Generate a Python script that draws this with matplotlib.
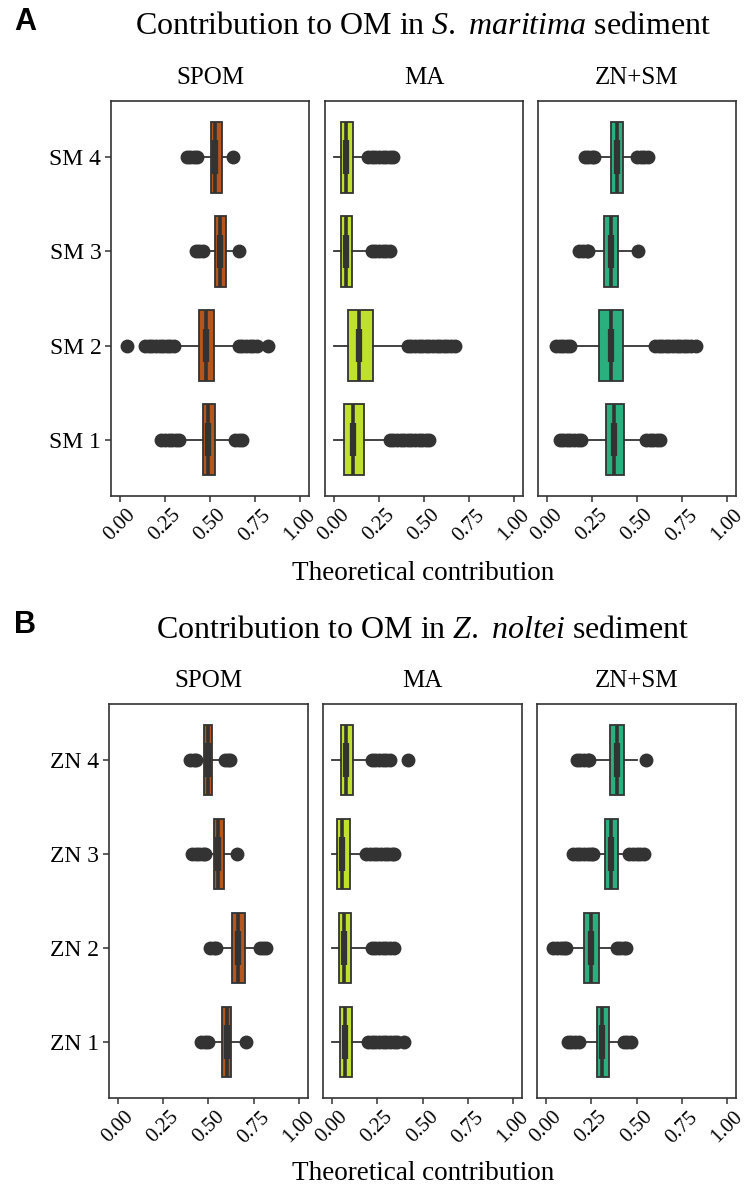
import matplotlib
matplotlib.use("Agg")
import matplotlib.pyplot as plt

plt.rcParams['font.family'] = ['Liberation Serif', 'DejaVu Serif']
plt.rcParams['mathtext.fontset'] = 'custom'
plt.rcParams['mathtext.rm'] = 'Liberation Serif'
plt.rcParams['mathtext.it'] = 'Liberation Serif:italic'

sources = ["SPOM", "MA", "ZN+SM"]
source_colors = ["#B5561C", "#BFE12B", "#2AB07F"]
sites_A = ["SM 1", "SM 2", "SM 3", "SM 4"]
sites_B = ["ZN 1", "ZN 2", "ZN 3", "ZN 4"]
x_ticks = [0.0, 0.25, 0.5, 0.75, 1.0]

# box stats per site: [whisker low, q1, median, q3, whisker high]
A_spom_box = [[0.36, 0.46, 0.49, 0.53, 0.61],
              [0.33, 0.44, 0.48, 0.52, 0.63],
              [0.48, 0.53, 0.555, 0.59, 0.63],
              [0.46, 0.505, 0.53, 0.565, 0.60]]
A_ma_box = [[0.0, 0.055, 0.105, 0.167, 0.29],
            [0.0, 0.077, 0.139, 0.217, 0.39],
            [0.0, 0.04, 0.065, 0.10, 0.19],
            [0.0, 0.04, 0.065, 0.105, 0.17]]
A_zs_box = [[0.22, 0.33, 0.37, 0.43, 0.53],
            [0.15, 0.29, 0.355, 0.42, 0.58],
            [0.24, 0.317, 0.355, 0.394, 0.48],
            [0.28, 0.355, 0.39, 0.42, 0.48]]

B_spom_box = [[0.53, 0.575, 0.60, 0.625, 0.68],
              [0.57, 0.63, 0.665, 0.70, 0.76],
              [0.50, 0.53, 0.555, 0.585, 0.63],
              [0.45, 0.475, 0.50, 0.52, 0.57]]
B_ma_box = [[0.0, 0.045, 0.07, 0.11, 0.19],
            [0.0, 0.04, 0.065, 0.105, 0.21],
            [0.0, 0.03, 0.055, 0.10, 0.18],
            [0.0, 0.05, 0.075, 0.115, 0.21]]
B_zs_box = [[0.20, 0.28, 0.31, 0.35, 0.42],
            [0.13, 0.21, 0.25, 0.29, 0.37],
            [0.27, 0.325, 0.36, 0.40, 0.45],
            [0.27, 0.355, 0.39, 0.43, 0.50]]

# outliers per site
A_spom_out = [[0.23, 0.25, 0.27, 0.29, 0.31, 0.33, 0.64, 0.66, 0.68],
              [0.04, 0.14, 0.16, 0.18, 0.20, 0.22, 0.24, 0.26, 0.28, 0.30,
               0.66, 0.68, 0.70, 0.72, 0.74, 0.76, 0.82],
              [0.42, 0.44, 0.46, 0.66],
              [0.37, 0.39, 0.41, 0.43, 0.63]]
A_ma_out = [[0.31, 0.33, 0.35, 0.37, 0.39, 0.41, 0.43, 0.45, 0.47, 0.49, 0.51, 0.53],
            [0.41, 0.43, 0.45, 0.47, 0.49, 0.51, 0.53, 0.55, 0.57, 0.59, 0.61, 0.63, 0.65, 0.67],
            [0.21, 0.23, 0.25, 0.27, 0.29, 0.31],
            [0.19, 0.21, 0.23, 0.25, 0.27, 0.29, 0.31, 0.33]]
A_zs_out = [[0.07, 0.09, 0.11, 0.13, 0.15, 0.17, 0.19, 0.55, 0.57, 0.59, 0.61, 0.63],
            [0.05, 0.07, 0.09, 0.11, 0.13, 0.60, 0.62, 0.64, 0.66, 0.68, 0.70,
             0.72, 0.74, 0.76, 0.78, 0.80, 0.83],
            [0.18, 0.20, 0.22, 0.23, 0.505],
            [0.21, 0.23, 0.25, 0.26, 0.50, 0.52, 0.54, 0.56]]

B_spom_out = [[0.46, 0.48, 0.50, 0.71],
              [0.51, 0.53, 0.54, 0.785, 0.80, 0.82],
              [0.41, 0.43, 0.45, 0.47, 0.48, 0.66],
              [0.40, 0.42, 0.43, 0.59, 0.61, 0.62]]
B_ma_out = [[0.20, 0.22, 0.24, 0.26, 0.28, 0.30, 0.32, 0.34, 0.36, 0.40],
            [0.22, 0.24, 0.26, 0.28, 0.30, 0.32, 0.34],
            [0.19, 0.21, 0.23, 0.25, 0.27, 0.29, 0.31, 0.33, 0.34],
            [0.22, 0.24, 0.26, 0.28, 0.30, 0.32, 0.42]]
B_zs_out = [[0.12, 0.14, 0.16, 0.18, 0.43, 0.45, 0.47],
            [0.04, 0.06, 0.08, 0.10, 0.11, 0.39, 0.41, 0.43, 0.44],
            [0.15, 0.17, 0.19, 0.21, 0.23, 0.25, 0.26, 0.46, 0.48, 0.50, 0.52, 0.54],
            [0.17, 0.19, 0.21, 0.23, 0.24, 0.55]]

W, H = 750, 1189
dark = "#333333"
fig = plt.figure(figsize=(W / 100, H / 100), dpi=100)


def px_axes(left, top, right, bottom):
    return fig.add_axes([left / W, 1 - bottom / H, (right - left) / W, (bottom - top) / H])


def draw_facet(ax, boxes, outliers, color, sites, show_y):
    stats = []
    for b, out in zip(boxes, outliers):
        stats.append(dict(whislo=b[0], q1=b[1], med=b[2], q3=b[3], whishi=b[4], fliers=out))
    pos = list(range(1, len(sites) + 1))
    ax.bxp(stats, positions=pos, widths=0.75, orientation='horizontal',
           patch_artist=True, showcaps=False,
           boxprops=dict(facecolor=color, edgecolor=dark, linewidth=1.3),
           whiskerprops=dict(color=dark, linewidth=1.3),
           medianprops=dict(color=dark, linewidth=2.6, solid_capstyle='butt'),
           flierprops=dict(marker='o', markersize=9, markerfacecolor=dark,
                           markeredgecolor=dark, linestyle='none'))
    # thick centre mark on the median
    for p, b in zip(pos, boxes):
        ax.plot([b[2], b[2]], [p - 0.18, p + 0.18], color=dark, lw=4.5,
                solid_capstyle='butt', zorder=5)
    ax.set_xlim(-0.05, 1.05)
    ax.set_ylim(0.4, 4.6)
    ax.set_xticks(x_ticks)
    ax.set_xticklabels(["%.2f" % t for t in x_ticks], rotation=45, ha='center', va='top')
    ax.set_yticks(pos)
    if show_y:
        ax.set_yticklabels(sites)
    else:
        ax.set_yticklabels([])
    ax.tick_params(axis='x', labelsize=15, length=4, width=1.1, color=dark, pad=3)
    ax.tick_params(axis='y', labelsize=17, length=4 if show_y else 0, width=1.1,
                   color=dark, pad=3)
    for s in ax.spines.values():
        s.set_color(dark)
        s.set_linewidth(1.2)


panels = [
    dict(letter="A", title=r"Contribution to OM in $\mathit{S.}$ $\mathit{maritima}$ sediment",
         boxes=[A_spom_box, A_ma_box, A_zs_box], outs=[A_spom_out, A_ma_out, A_zs_out],
         sites=sites_A, lefts=[111, 325, 538], width=198, top=101, bottom=496,
         y_letter=22, y_title=27, y_strip=78, y_xlab=573),
    dict(letter="B", title=r"Contribution to OM in $\mathit{Z.}$ $\mathit{noltei}$ sediment",
         boxes=[B_spom_box, B_ma_box, B_zs_box], outs=[B_spom_out, B_ma_out, B_zs_out],
         sites=sites_B, lefts=[109, 323, 537], width=199, top=704, bottom=1098,
         y_letter=625, y_title=630, y_strip=681, y_xlab=1174),
]

for pnl in panels:
    for i, src in enumerate(sources):
        left = pnl["lefts"][i]
        ax = px_axes(left, pnl["top"], left + pnl["width"], pnl["bottom"])
        draw_facet(ax, pnl["boxes"][i], pnl["outs"][i], source_colors[i], pnl["sites"], i == 0)
        fig.text((left + pnl["width"] / 2) / W, 1 - pnl["y_strip"] / H, src,
                 ha='center', va='center', fontsize=18)
    fig.text(423 / W, 1 - pnl["y_title"] / H, pnl["title"], ha='center', va='center', fontsize=23)
    fig.text(25 / W, 1 - pnl["y_letter"] / H, pnl["letter"], ha='center', va='center',
             fontsize=22, fontweight='bold', family='Liberation Sans')
    fig.text(423 / W, 1 - pnl["y_xlab"] / H, "Theoretical contribution",
             ha='center', va='center', fontsize=19.5)

fig.savefig("out.png", dpi=100)
